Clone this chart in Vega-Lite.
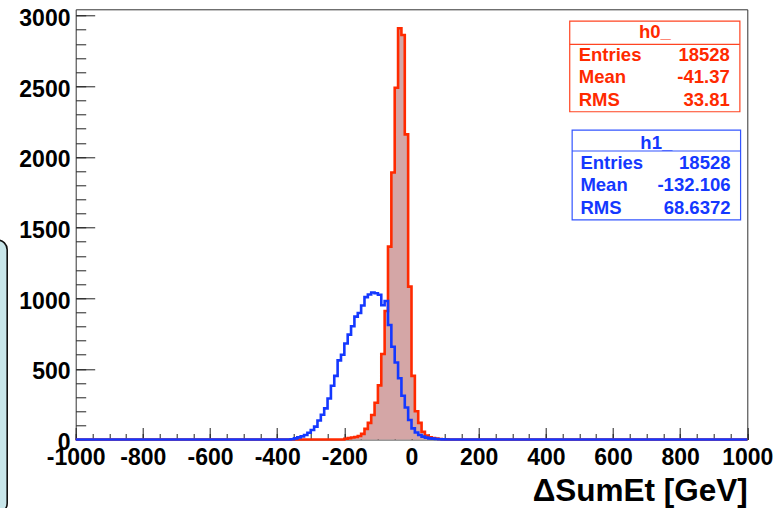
{
  "$schema": "https://vega.github.io/schema/vega-lite/v6.json",
  "width": 671.6,
  "height": 430.2,
  "autosize": "none",
  "padding": {"left": 75.7, "top": 9.3, "right": 28.7, "bottom": 68.5},
  "background": "white",
  "config": {
    "view": {"stroke": "#333333", "strokeWidth": 1},
    "font": "Liberation Sans",
    "axis": {"grid": false, "domain": false, "tickColor": "#222222", "tickWidth": 1, "zindex": 1,
             "labelFont": "Liberation Sans", "labelFontWeight": "bold", "labelFontSize": 23, "labelColor": "#000000",
             "labelFlush": false, "labelOverlap": false}
  },
  "datasets": {
    "bins": [
      {"hist": "h0_", "lo": -1000, "count": 0},
      {"hist": "h0_", "lo": -200, "count": 5},
      {"hist": "h0_", "lo": -190, "count": 10},
      {"hist": "h0_", "lo": -180, "count": 14},
      {"hist": "h0_", "lo": -170, "count": 18},
      {"hist": "h0_", "lo": -160, "count": 25},
      {"hist": "h0_", "lo": -150, "count": 40},
      {"hist": "h0_", "lo": -140, "count": 75},
      {"hist": "h0_", "lo": -130, "count": 118},
      {"hist": "h0_", "lo": -120, "count": 173},
      {"hist": "h0_", "lo": -110, "count": 260},
      {"hist": "h0_", "lo": -100, "count": 383},
      {"hist": "h0_", "lo": -90, "count": 605},
      {"hist": "h0_", "lo": -80, "count": 910},
      {"hist": "h0_", "lo": -70, "count": 1365},
      {"hist": "h0_", "lo": -60, "count": 1890},
      {"hist": "h0_", "lo": -50, "count": 2490},
      {"hist": "h0_", "lo": -40, "count": 2911},
      {"hist": "h0_", "lo": -30, "count": 2863},
      {"hist": "h0_", "lo": -20, "count": 2160},
      {"hist": "h0_", "lo": -10, "count": 1082},
      {"hist": "h0_", "lo": 0, "count": 450},
      {"hist": "h0_", "lo": 10, "count": 200},
      {"hist": "h0_", "lo": 20, "count": 118},
      {"hist": "h0_", "lo": 30, "count": 55},
      {"hist": "h0_", "lo": 40, "count": 28},
      {"hist": "h0_", "lo": 50, "count": 15},
      {"hist": "h0_", "lo": 60, "count": 10},
      {"hist": "h0_", "lo": 70, "count": 6},
      {"hist": "h0_", "lo": 80, "count": 4},
      {"hist": "h0_", "lo": 90, "count": 2},
      {"hist": "h0_", "lo": 100, "count": 1},
      {"hist": "h0_", "lo": 110, "count": 0},
      {"hist": "h0_", "lo": 1000, "count": 0},
      {"hist": "h1_", "lo": -1000, "count": 0},
      {"hist": "h1_", "lo": -360, "count": 2},
      {"hist": "h1_", "lo": -350, "count": 8},
      {"hist": "h1_", "lo": -340, "count": 15},
      {"hist": "h1_", "lo": -330, "count": 22},
      {"hist": "h1_", "lo": -320, "count": 32},
      {"hist": "h1_", "lo": -310, "count": 48},
      {"hist": "h1_", "lo": -300, "count": 67},
      {"hist": "h1_", "lo": -290, "count": 91},
      {"hist": "h1_", "lo": -280, "count": 135},
      {"hist": "h1_", "lo": -270, "count": 175},
      {"hist": "h1_", "lo": -260, "count": 220},
      {"hist": "h1_", "lo": -250, "count": 290},
      {"hist": "h1_", "lo": -240, "count": 380},
      {"hist": "h1_", "lo": -230, "count": 450},
      {"hist": "h1_", "lo": -220, "count": 560},
      {"hist": "h1_", "lo": -210, "count": 600},
      {"hist": "h1_", "lo": -200, "count": 680},
      {"hist": "h1_", "lo": -190, "count": 742},
      {"hist": "h1_", "lo": -180, "count": 802},
      {"hist": "h1_", "lo": -170, "count": 870},
      {"hist": "h1_", "lo": -160, "count": 895},
      {"hist": "h1_", "lo": -150, "count": 948},
      {"hist": "h1_", "lo": -140, "count": 1008},
      {"hist": "h1_", "lo": -130, "count": 1026},
      {"hist": "h1_", "lo": -120, "count": 1040},
      {"hist": "h1_", "lo": -110, "count": 1035},
      {"hist": "h1_", "lo": -100, "count": 1025},
      {"hist": "h1_", "lo": -90, "count": 950},
      {"hist": "h1_", "lo": -80, "count": 980},
      {"hist": "h1_", "lo": -70, "count": 810},
      {"hist": "h1_", "lo": -60, "count": 657},
      {"hist": "h1_", "lo": -50, "count": 545},
      {"hist": "h1_", "lo": -40, "count": 433},
      {"hist": "h1_", "lo": -30, "count": 310},
      {"hist": "h1_", "lo": -20, "count": 226},
      {"hist": "h1_", "lo": -10, "count": 138},
      {"hist": "h1_", "lo": 0, "count": 79},
      {"hist": "h1_", "lo": 10, "count": 50},
      {"hist": "h1_", "lo": 20, "count": 32},
      {"hist": "h1_", "lo": 30, "count": 20},
      {"hist": "h1_", "lo": 40, "count": 13},
      {"hist": "h1_", "lo": 50, "count": 8},
      {"hist": "h1_", "lo": 60, "count": 6},
      {"hist": "h1_", "lo": 70, "count": 4},
      {"hist": "h1_", "lo": 80, "count": 2},
      {"hist": "h1_", "lo": 90, "count": 1},
      {"hist": "h1_", "lo": 100, "count": 0},
      {"hist": "h1_", "lo": 1000, "count": 0}
    ],
    "stats": [
      {"hist": "h0_", "labels": ["Entries", "Mean", "RMS"], "values": ["18528", "-41.37", "33.81"]},
      {"hist": "h1_", "labels": ["Entries", "Mean", "RMS"], "values": ["18528", "-132.106", "68.6372"]}
    ]
  },
  "resolve": {"axis": {"x": "independent", "y": "independent"}},
  "layer": [
    {
      "data": {"values": [{}]},
      "mark": {"type": "rect", "fill": "#c8e6ea", "stroke": "#111111", "strokeWidth": 1.6, "cornerRadius": 10},
      "encoding": {
        "x": {"datum": -1262, "type": "quantitative", "axis": null, "scale": {"domain": [-1000, 1000], "nice": false, "zero": false}},
        "x2": {"datum": -1204},
        "y": {"datum": 1412, "type": "quantitative", "axis": null, "scale": {"domain": [0, 3045], "nice": false}},
        "y2": {"datum": -520}
      }
    },
    {
      "data": {"name": "bins"},
      "transform": [{"filter": "datum.hist === 'h0_'"}],
      "mark": {"type": "area", "interpolate": "step-after", "fill": "#d4a6a6", "opacity": 1},
      "encoding": {
        "x": {"field": "lo", "type": "quantitative",
              "scale": {"domain": [-1000, 1000], "nice": false, "zero": false},
              "axis": {"orient": "bottom", "values": [-1000, -800, -600, -400, -200, 0, 200, 400, 600, 800, 1000],
                       "labelExpr": "'' + datum.value",
                       "tickSize": -12, "labelPadding": 18.5, "labelBaseline": "top",
                       "title": "ΔSumEt [GeV]", "titleFont": "Liberation Sans", "titleFontSize": 31.5, "titleFontWeight": "bold",
                       "titleColor": "#000000", "titleAnchor": "end", "titleAlign": "right", "titleBaseline": "alphabetic",
                       "titleX": 671.6, "titleY": 60.5}},
        "y": {"field": "count", "type": "quantitative", "stack": null,
              "scale": {"domain": [0, 3045], "nice": false},
              "axis": {"orient": "left", "values": [0, 500, 1000, 1500, 2000, 2500, 3000],
                       "labelExpr": "'' + datum.value",
                       "tickSize": -19, "labelPadding": 24.7, "labelBaseline": "middle", "labelOffset": 3, "title": null}}
      }
    },
    {
      "data": {"name": "bins"},
      "transform": [{"filter": "datum.hist === 'h0_'"}],
      "mark": {"type": "line", "interpolate": "step-after", "stroke": "#ff2a00", "strokeWidth": 2.6, "strokeJoin": "miter", "strokeCap": "butt"},
      "encoding": {
        "x": {"field": "lo", "type": "quantitative",
              "scale": {"domain": [-1000, 1000], "nice": false, "zero": false},
              "axis": {"orient": "bottom", "values": [-1000, -950, -900, -850, -800, -750, -700, -650, -600, -550, -500, -450, -400, -350, -300, -250, -200, -150, -100, -50, 0, 50, 100, 150, 200, 250, 300, 350, 400, 450, 500, 550, 600, 650, 700, 750, 800, 850, 900, 950, 1000],
                       "tickSize": -6, "labels": false, "title": null}},
        "y": {"field": "count", "type": "quantitative",
              "scale": {"domain": [0, 3045], "nice": false},
              "axis": {"orient": "left", "values": [0, 100, 200, 300, 400, 500, 600, 700, 800, 900, 1000, 1100, 1200, 1300, 1400, 1500, 1600, 1700, 1800, 1900, 2000, 2100, 2200, 2300, 2400, 2500, 2600, 2700, 2800, 2900, 3000],
                       "tickSize": -10, "labels": false, "title": null}}
      }
    },
    {
      "data": {"name": "bins"},
      "transform": [{"filter": "datum.hist === 'h1_'"}],
      "mark": {"type": "line", "interpolate": "step-after", "stroke": "#1438ff", "strokeWidth": 2.6, "strokeJoin": "miter", "strokeCap": "butt"},
      "encoding": {
        "x": {"field": "lo", "type": "quantitative", "axis": null, "scale": {"domain": [-1000, 1000], "nice": false, "zero": false}},
        "y": {"field": "count", "type": "quantitative", "axis": null, "scale": {"domain": [0, 3045], "nice": false}}
      }
    },
    {
      "data": {"name": "stats"},
      "transform": [{"filter": "datum.hist === 'h0_'"}],
      "layer": [
        {
          "mark": {"type": "rect", "fill": "white", "stroke": "#ff4422", "strokeWidth": 1.2},
          "encoding": {
            "x": {"datum": 471.2, "type": "quantitative", "axis": null, "scale": {"domain": [-1000, 1000], "nice": false, "zero": false}},
            "x2": {"datum": 977.9},
            "y": {"datum": 2962, "type": "quantitative", "axis": null, "scale": {"domain": [0, 3045], "nice": false}},
            "y2": {"datum": 2320}
          }
        },
        {
          "mark": {"type": "rule", "stroke": "#ff4422", "strokeWidth": 1.2},
          "encoding": {
            "x": {"datum": 471.2, "type": "quantitative", "axis": null, "scale": {"domain": [-1000, 1000], "nice": false, "zero": false}},
            "x2": {"datum": 977.9},
            "y": {"datum": 2797, "type": "quantitative", "axis": null, "scale": {"domain": [0, 3045], "nice": false}}
          }
        },
        {
          "mark": {"type": "text", "align": "center", "baseline": "middle", "font": "Liberation Sans", "fontWeight": "bold", "fontSize": 18.5, "fill": "#ff2a00"},
          "encoding": {
            "x": {"datum": 724.6, "type": "quantitative", "axis": null, "scale": {"domain": [-1000, 1000], "nice": false, "zero": false}},
            "y": {"datum": 2886, "type": "quantitative", "axis": null, "scale": {"domain": [0, 3045], "nice": false}},
            "text": {"field": "hist", "type": "nominal"}
          }
        },
        {
          "mark": {"type": "text", "align": "left", "baseline": "middle", "lineHeight": 22.5, "font": "Liberation Sans", "fontWeight": "bold", "fontSize": 18.5, "fill": "#ff2a00"},
          "encoding": {
            "x": {"datum": 498, "type": "quantitative", "axis": null, "scale": {"domain": [-1000, 1000], "nice": false, "zero": false}},
            "y": {"datum": 2722, "type": "quantitative", "axis": null, "scale": {"domain": [0, 3045], "nice": false}},
            "text": {"field": "labels", "type": "nominal"}
          }
        },
        {
          "mark": {"type": "text", "align": "right", "baseline": "middle", "lineHeight": 22.5, "font": "Liberation Sans", "fontWeight": "bold", "fontSize": 18.5, "fill": "#ff2a00"},
          "encoding": {
            "x": {"datum": 948, "type": "quantitative", "axis": null, "scale": {"domain": [-1000, 1000], "nice": false, "zero": false}},
            "y": {"datum": 2722, "type": "quantitative", "axis": null, "scale": {"domain": [0, 3045], "nice": false}},
            "text": {"field": "values", "type": "nominal"}
          }
        }
      ]
    },
    {
      "data": {"name": "stats"},
      "transform": [{"filter": "datum.hist === 'h1_'"}],
      "layer": [
        {
          "mark": {"type": "rect", "fill": "white", "stroke": "#3355ff", "strokeWidth": 1.2},
          "encoding": {
            "x": {"datum": 478.4, "type": "quantitative", "axis": null, "scale": {"domain": [-1000, 1000], "nice": false, "zero": false}},
            "x2": {"datum": 980},
            "y": {"datum": 2190, "type": "quantitative", "axis": null, "scale": {"domain": [0, 3045], "nice": false}},
            "y2": {"datum": 1554}
          }
        },
        {
          "mark": {"type": "rule", "stroke": "#3355ff", "strokeWidth": 1.2},
          "encoding": {
            "x": {"datum": 478.4, "type": "quantitative", "axis": null, "scale": {"domain": [-1000, 1000], "nice": false, "zero": false}},
            "x2": {"datum": 980},
            "y": {"datum": 2042, "type": "quantitative", "axis": null, "scale": {"domain": [0, 3045], "nice": false}}
          }
        },
        {
          "mark": {"type": "text", "align": "center", "baseline": "middle", "font": "Liberation Sans", "fontWeight": "bold", "fontSize": 18.5, "fill": "#1438ff"},
          "encoding": {
            "x": {"datum": 729, "type": "quantitative", "axis": null, "scale": {"domain": [-1000, 1000], "nice": false, "zero": false}},
            "y": {"datum": 2097, "type": "quantitative", "axis": null, "scale": {"domain": [0, 3045], "nice": false}},
            "text": {"field": "hist", "type": "nominal"}
          }
        },
        {
          "mark": {"type": "text", "align": "left", "baseline": "middle", "lineHeight": 22.2, "font": "Liberation Sans", "fontWeight": "bold", "fontSize": 18.5, "fill": "#1438ff"},
          "encoding": {
            "x": {"datum": 503, "type": "quantitative", "axis": null, "scale": {"domain": [-1000, 1000], "nice": false, "zero": false}},
            "y": {"datum": 1955, "type": "quantitative", "axis": null, "scale": {"domain": [0, 3045], "nice": false}},
            "text": {"field": "labels", "type": "nominal"}
          }
        },
        {
          "mark": {"type": "text", "align": "right", "baseline": "middle", "lineHeight": 22.2, "font": "Liberation Sans", "fontWeight": "bold", "fontSize": 18.5, "fill": "#1438ff"},
          "encoding": {
            "x": {"datum": 950, "type": "quantitative", "axis": null, "scale": {"domain": [-1000, 1000], "nice": false, "zero": false}},
            "y": {"datum": 1955, "type": "quantitative", "axis": null, "scale": {"domain": [0, 3045], "nice": false}},
            "text": {"field": "values", "type": "nominal"}
          }
        }
      ]
    }
  ]
}
